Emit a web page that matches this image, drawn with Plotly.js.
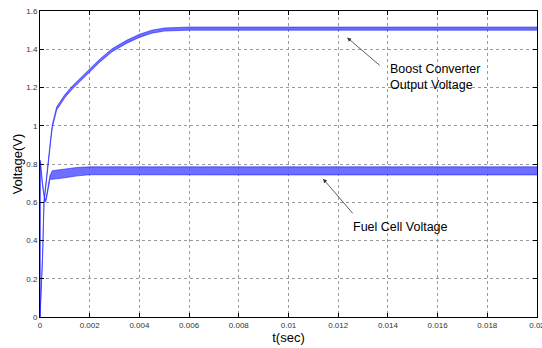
<!DOCTYPE html>
<html>
<head>
<meta charset="utf-8">
<script src="https://cdn.plot.ly/plotly-3.0.1.min.js"></script>
<style>html,body{margin:0;padding:0;background:#fff;}#chart{width:542px;height:348px;}</style>
</head>
<body>
<div id="chart"></div>
<script>
// Boost converter output voltage: ripple envelope (upper / lower)
var boostT  = [0, 0.00005, 0.0001, 0.00016, 0.00025, 0.00034, 0.00045, 0.0005, 0.00067, 0.001, 0.0013, 0.0016, 0.002, 0.0024, 0.0029, 0.0035, 0.004, 0.0045, 0.005, 0.0055, 0.006, 0.01, 0.02];
var boostHi = [0, 0.125, 0.305, 0.605, 0.727, 0.827, 0.958, 1.008, 1.098, 1.163, 1.208, 1.246, 1.298, 1.348, 1.403, 1.448, 1.478, 1.500, 1.511, 1.515, 1.516, 1.516, 1.516];
var boostLo = [0, 0.115, 0.295, 0.595, 0.713, 0.813, 0.942, 0.992, 1.082, 1.147, 1.192, 1.230, 1.282, 1.332, 1.387, 1.432, 1.462, 1.484, 1.495, 1.499, 1.500, 1.500, 1.500];

// Fuel cell voltage: ripple envelope (upper / lower)
var fuelT  = [0, 0.00001, 0.0001, 0.0002, 0.00025, 0.0003, 0.0004, 0.0005, 0.0007, 0.001, 0.0015, 0.002, 0.003, 0.006, 0.008, 0.02];
var fuelHi = [0, 0.82, 0.70, 0.61, 0.625, 0.67, 0.74, 0.765, 0.768, 0.775, 0.782, 0.785, 0.785, 0.784, 0.785, 0.785];
var fuelLo = [0, 0.81, 0.69, 0.60, 0.610, 0.65, 0.72, 0.720, 0.722, 0.728, 0.738, 0.744, 0.744, 0.742, 0.743, 0.743];

// Tick labels
var xTickVals = [0, 0.002, 0.004, 0.006, 0.008, 0.01, 0.012, 0.014, 0.016, 0.018, 0.02];
var xTickText = ["0", "0.002", "0.004", "0.006", "0.008", "0.01", "0.012", "0.014", "0.016", "0.018", "0.02"];
var yTickVals = [0, 0.2, 0.4, 0.6, 0.8, 1, 1.2, 1.4, 1.6];
var yTickText = ["0", "0.2", "0.4", "0.6", "0.8", "1", "1.2", "1.4", "1.6"];

var lineCol = '#2020ff';
var fillCol = 'rgba(85,85,255,0.85)';

var traces = [
  {x: fuelT, y: fuelLo, mode: 'lines', line: {color: lineCol, width: 0.6}, hoverinfo: 'skip'},
  {x: fuelT, y: fuelHi, mode: 'lines', line: {color: lineCol, width: 0.6}, fill: 'tonexty', fillcolor: fillCol, hoverinfo: 'skip'},
  {x: boostT, y: boostLo, mode: 'lines', line: {color: lineCol, width: 0.6}, hoverinfo: 'skip'},
  {x: boostT, y: boostHi, mode: 'lines', line: {color: lineCol, width: 0.6}, fill: 'tonexty', fillcolor: fillCol, hoverinfo: 'skip'}
];

var tickFont = {family: 'Liberation Sans, Arial, sans-serif', size: 8, color: '#333'};
var layout = {
  width: 542, height: 348,
  margin: {l: 40, r: 5, t: 11, b: 31},
  paper_bgcolor: '#fff', plot_bgcolor: '#fff',
  showlegend: false,
  xaxis: {
    range: [0, 0.0200001], tickvals: xTickVals, ticktext: xTickText, ticklabeloverflow: 'allow',
    showgrid: true, gridcolor: '#9a9a9a', griddash: 'dot', gridwidth: 1,
    zeroline: false, showline: true, linecolor: '#000', linewidth: 1, mirror: 'allticks',
    ticks: 'inside', ticklen: 4, tickcolor: '#000', tickfont: tickFont,
    title: {text: 't(sec)', font: {family: 'Liberation Sans, Arial, sans-serif', size: 13, color: '#000'}, standoff: 4}
  },
  yaxis: {
    range: [0, 1.6000001], tickvals: yTickVals, ticktext: yTickText, ticklabeloverflow: 'allow',
    showgrid: true, gridcolor: '#9a9a9a', griddash: 'dot', gridwidth: 1,
    zeroline: false, showline: true, linecolor: '#000', linewidth: 1, mirror: 'allticks',
    ticks: 'inside', ticklen: 4, tickcolor: '#000', tickfont: tickFont,
    title: {text: 'Voltage(V)', font: {family: 'Liberation Sans, Arial, sans-serif', size: 13, color: '#000'}, standoff: 0}
  },
  annotations: [
    {x: 0.01236, y: 1.461, xref: 'x', yref: 'y', text: '', showarrow: true, ax: 34, ay: 29,
     arrowhead: 2, arrowsize: 1, arrowwidth: 0.8, arrowcolor: '#333', standoff: 0, startstandoff: 0},
    {x: 0.01139, y: 0.7225, xref: 'x', yref: 'y', text: '', showarrow: true, ax: 31, ay: 36,
     arrowhead: 2, arrowsize: 1, arrowwidth: 0.8, arrowcolor: '#333', standoff: 0, startstandoff: 0},
    {x: 0.01402, y: 1.257, xref: 'x', yref: 'y', text: 'Boost Converter<br>Output Voltage', showarrow: false,
     xanchor: 'left', yanchor: 'middle', align: 'left',
     font: {family: 'Liberation Sans, Arial, sans-serif', size: 12.5, color: '#000'}},
    {x: 0.01253, y: 0.471, xref: 'x', yref: 'y', text: 'Fuel Cell Voltage', showarrow: false,
     xanchor: 'left', yanchor: 'middle', align: 'left',
     font: {family: 'Liberation Sans, Arial, sans-serif', size: 12.5, color: '#000'}}
  ]
};

Plotly.newPlot('chart', traces, layout, {displayModeBar: false, staticPlot: true});
</script>
</body>
</html>
